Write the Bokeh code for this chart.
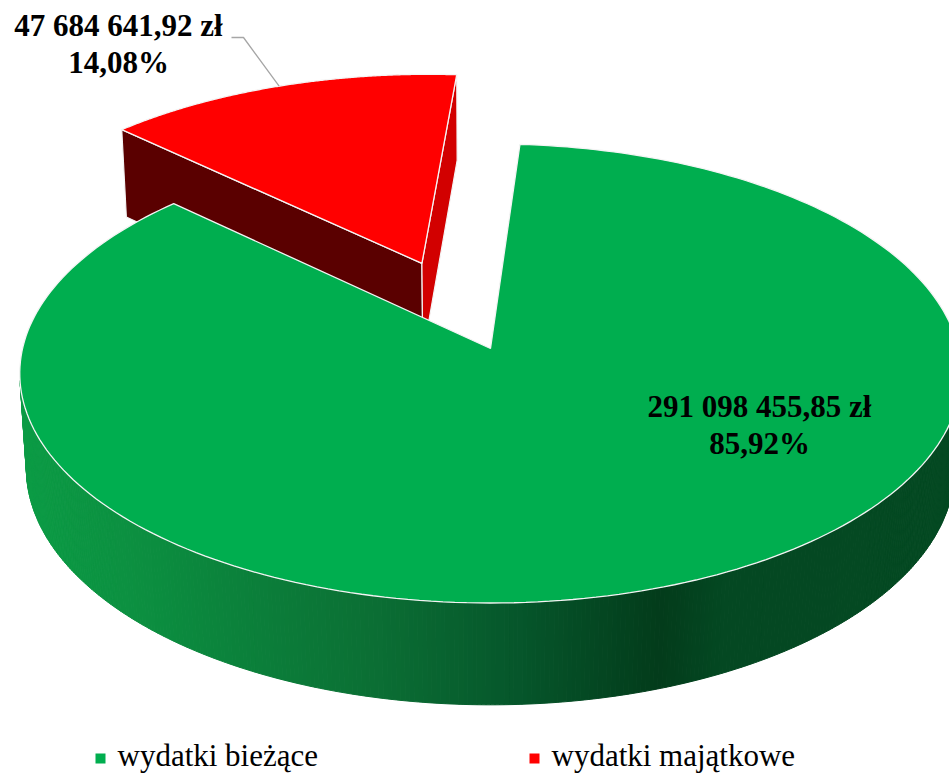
import numpy as np
from bokeh.plotting import figure
from bokeh.models import Range1d
from bokeh.embed import file_html
from bokeh.resources import INLINE
from bokeh.core.properties import value

# ---------------- data ----------------
categories = ["wydatki bieżące", "wydatki majątkowe"]
amounts = [291098455.85, 47684641.92]
top_colors = ["#00AE4F", "#FF0000"]
face_start_colors = ["#0A7A38", "#5A0000"]   # cut face at slice start
face_end_colors = ["#0A7A38", "#D20000"]     # cut face at slice end
explode = [0.0, 0.42]

# ---------------- layout / projection ----------------
W, H = 949, 774
CX, CY = 490.0, 348.0
FOC = 3767.0
DIST = 8.05
PHI = np.radians(29.0)
THICK = 0.234
START = 4.0  # degrees, clockwise from 12 o'clock

# gradient stops for the side of the green slice (screen x -> rgb)
side_stops_x = [0, 20, 150, 380, 520, 660, 720, 960]
side_stops_green = [(12, 156, 70), (12, 156, 70), (12, 142, 64), (11, 110, 52),
                    (6, 86, 43), (3, 60, 27), (4, 72, 34), (4, 74, 35)]
side_stops_red = [(150, 0, 0), (150, 0, 0), (140, 0, 0), (120, 0, 0),
                  (100, 0, 0), (80, 0, 0), (90, 0, 0), (90, 0, 0)]
side_stops = [side_stops_green, side_stops_red]


def proj(X, Hh, Z):
    yc = Hh * np.cos(PHI) + Z * np.sin(PHI)
    d = DIST + Z * np.cos(PHI) - Hh * np.sin(PHI)
    return CX + FOC * X / d, CY - FOC * yc / d


def shade(stops, x):
    xs = np.array(side_stops_x, dtype=float)
    r = np.interp(x, xs, [s[0] for s in stops])
    g = np.interp(x, xs, [s[1] for s in stops])
    b = np.interp(x, xs, [s[2] for s in stops])
    return "#%02x%02x%02x" % (int(r), int(g), int(b))


total = sum(amounts)
fracs = [a / total for a in amounts]


def fmt_amount(v):
    s = f"{v:,.2f}"
    return s.replace(",", " ").replace(".", ",") + " zł"


def fmt_pct(f):
    return f"{100 * f:.2f}".replace(".", ",") + "%"


p = figure(width=W, height=H, x_range=Range1d(0, W), y_range=Range1d(H, 0),
           output_backend="svg", toolbar_location=None,
           x_axis_location=None, y_axis_location=None, min_border=0)
p.outline_line_color = None
p.xgrid.visible = False
p.ygrid.visible = False
p.background_fill_color = "white"

# slice angle ranges
slices = []
a = START
for i, f in enumerate(fracs):
    a0, a1 = a, a + 360 * f
    mid = np.radians((a0 + a1) / 2)
    ox, oz = explode[i] * np.sin(mid), explode[i] * np.cos(mid)
    slices.append((i, a0, a1, ox, oz))
    a = a1

# farther slices first
order = sorted(slices, key=lambda s: -s[4])
cam_z = -DIST * np.cos(PHI)

for (i, a0, a1, ox, oz) in order:
    # side band (only front-facing part)
    th = np.radians(np.arange(a0, a1 + 1e-9, 0.5))
    if th[-1] < np.radians(a1):
        th = np.append(th, np.radians(a1))
    qx, qy, qc = [], [], []
    for k in range(len(th) - 1):
        t0, t1 = th[k], th[k + 1]
        tm = (t0 + t1) / 2
        facing = -ox * np.sin(tm) - oz * np.cos(tm) + cam_z * np.cos(tm) - 1
        if facing <= 0:
            continue
        x0t, y0t = proj(ox + np.sin(t0), 0, oz + np.cos(t0))
        x1t, y1t = proj(ox + np.sin(t1), 0, oz + np.cos(t1))
        x1b, y1b = proj(ox + np.sin(t1), -THICK, oz + np.cos(t1))
        x0b, y0b = proj(ox + np.sin(t0), -THICK, oz + np.cos(t0))
        qx.append([x0t, x1t, x1b, x0b])
        qy.append([y0t, y1t, y1b, y0b])
        qc.append(shade(side_stops[i], (x0t + x1t) / 2))
    if qx:
        p.patches(qx, qy, fill_color=qc, line_color=qc, line_width=1.0)

    # cut faces
    for ang, n, col in ((a0, (-np.cos(np.radians(a0)), np.sin(np.radians(a0))), face_start_colors[i]),
                        (a1, (np.cos(np.radians(a1)), -np.sin(np.radians(a1))), face_end_colors[i])):
        vis = n[0] * (0 - ox) + n[1] * (cam_z - oz)
        if vis <= 0:
            continue
        r = np.radians(ang)
        pts = [proj(ox, 0, oz), proj(ox + np.sin(r), 0, oz + np.cos(r)),
               proj(ox + np.sin(r), -THICK, oz + np.cos(r)), proj(ox, -THICK, oz)]
        p.patch([q[0] for q in pts], [q[1] for q in pts], fill_color=col,
                line_color="#f4f4f4", line_width=1.2)

    # top face
    tt = np.radians(np.linspace(a0, a1, 240))
    tx, ty = proj(ox + np.sin(tt), 0, oz + np.cos(tt))
    ax, ay = proj(ox, 0, oz)
    p.patch(np.concatenate([[ax], tx, [ax]]), np.concatenate([[ay], ty, [ay]]),
            fill_color=top_colors[i], line_color="#f4f4f4", line_width=1.3)

# ---------------- data labels ----------------
label_font = value("Liberation Serif")
lab_x = [759, 118]
lab_y1 = [406, 25]
lab_dy = 37
texts1 = [fmt_amount(v) for v in amounts]
texts2 = [fmt_pct(f) for f in fracs]
p.text(x=lab_x, y=lab_y1, text=texts1, text_font=label_font, text_font_style="bold",
       text_font_size="31px", text_align="center", text_baseline="middle", text_color="black")
p.text(x=lab_x, y=[v + lab_dy for v in lab_y1], text=texts2, text_font=label_font,
       text_font_style="bold", text_font_size="31px", text_align="center",
       text_baseline="middle", text_color="black")

# leader line for the small slice
i, a0, a1, ox, oz = slices[1]
mid = np.radians((a0 + a1) / 2)
ex, ey = proj(ox + np.sin(mid), 0, oz + np.cos(mid))
p.line([231, 243, ex], [37, 37, ey], line_color="#a6a6a6", line_width=1.3)

# ---------------- legend ----------------
leg_sq_x = [100, 534]
leg_tx = [117, 551]
p.scatter(x=leg_sq_x, y=[758, 758], marker="square", size=10,
          fill_color=top_colors, line_color=None)
p.text(x=leg_tx, y=[755, 755], text=categories, text_font=label_font,
       text_font_size="31px", text_align="left", text_baseline="middle", text_color="black")

open("out.html", "w").write(file_html(p, INLINE))
